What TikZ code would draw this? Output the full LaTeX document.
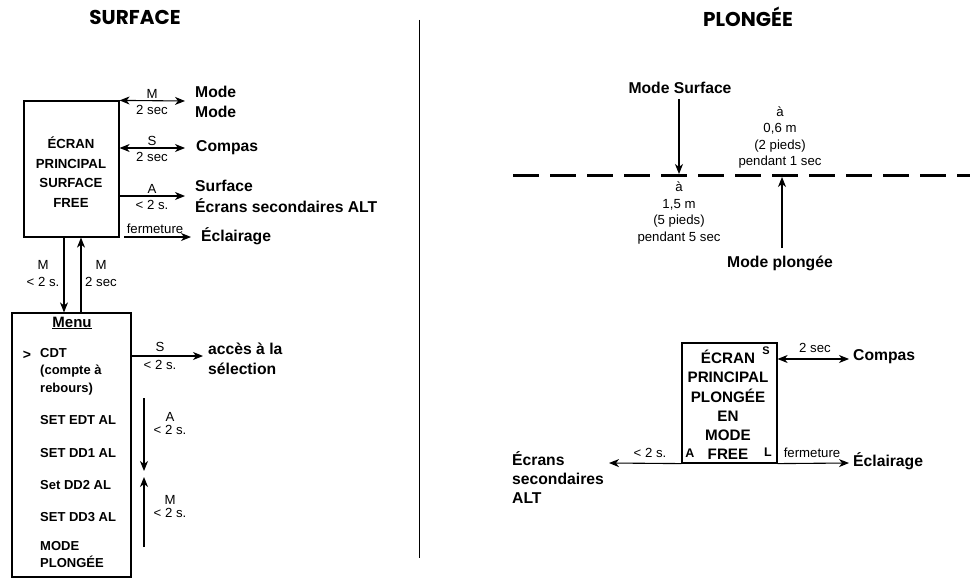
\documentclass[tikz,border=0pt]{standalone}
\usepackage{fontspec}
\setmainfont{Liberation Sans}
\newfontfamily\headfont{Poppins}
\usetikzlibrary{arrows.meta}
\tikzset{
  tip/.tip={Stealth[length=10pt,width=8pt,inset=3pt]},
  conn/.style={line width=1.1pt},
  screen/.style={draw, line width=1.2pt, inner sep=0pt},
  lbl/.style={font=\fontsize{13.2}{15}\selectfont, inner sep=0pt},
  dlbl/.style={font=\fontsize{13.2}{16.5}\selectfont, align=center, inner sep=0pt},
  tgt/.style={font=\fontsize{15.7}{20}\selectfont\bfseries, inner sep=0pt, anchor=west, align=left},
  scrtext/.style={font=\fontsize{13.2}{19.5}\selectfont\bfseries, align=center, inner sep=0pt},
  item/.style={font=\fontsize{13}{17.5}\selectfont\bfseries, inner sep=0pt, anchor=west, align=left},
  title/.style={font=\fontsize{20}{24}\headfont\bfseries, inner sep=0pt}
}
\begin{document}
\begin{tikzpicture}[x=1pt, y=-1pt]
\useasboundingbox (0,0) rectangle (970,578);

% headings and divider
\node[title] (tsurf) at (135,17) {SURFACE};
\node[title] (tplon) at (748,17) {PLONGÉE};
\coordinate (divtop) at (419.5,20);
\coordinate (divbot) at (419.5,558);
\draw[line width=1.3pt] (divtop) -- (divbot);

% ---------- surface: main screen ----------
\node[screen, minimum width=95pt, minimum height=136pt] (scr) at (71.5,169) {};
\node[scrtext] (scrtxt) at (71,172) {ÉCRAN\\PRINCIPAL\\SURFACE\\FREE};

\coordinate (e1) at (185,101);
\coordinate (e2) at (185,148);
\coordinate (e3) at (185,196);
\coordinate (e4s) at (124,237);
\coordinate (e4) at (191,237);

\draw[conn, tip-tip] (scr.north east) -- (e1);
\node[lbl] (l1a) at (152,94) {M};
\node[lbl] (l1b) at (152,110) {2 sec};
\node[tgt] (t1a) at (195,92) {Mode};
\node[tgt] (t1b) at (195,112) {Mode};

\draw[conn, tip-tip] (e2 -| scr.east) -- (e2);
\node[lbl] (l2a) at (152,141) {S};
\node[lbl] (l2b) at (152,157) {2 sec};
\node[tgt] (t2) at (196,148) {Compas};

\draw[conn, -tip] (e3 -| scr.east) -- (e3);
\node[lbl] (l3a) at (152,189) {A};
\node[lbl] (l3b) at (152,205) {< 2 s.};
\node[tgt] (t3a) at (195,186) {Surface};
\node[tgt] (t3b) at (195,206) {Écrans secondaires ALT};

\draw[conn, -tip] (e4s) -- (e4);
\node[lbl] (l4) at (155,229) {fermeture};
\node[tgt] (t4) at (201,236) {Éclairage};

% ---------- surface: menu ----------
\node[screen, minimum width=119pt, minimum height=264pt] (menu) at (71.5,445) {};

\draw[conn, -tip] (scr.south -| 64,0) -- (menu.north -| 64,0);
\draw[conn, -tip] (menu.north -| 81,0) -- (scr.south -| 81,0);
\node[lbl] (lm1a) at (43,265) {M};
\node[lbl] (lm1b) at (43,282) {< 2 s.};
\node[lbl] (lm2a) at (101,265) {M};
\node[lbl] (lm2b) at (101,282) {2 sec};

\node[font=\fontsize{15}{17}\selectfont\bfseries, inner sep=0pt] (mhead) at (72,323) {\underline{Menu}};
\node[font=\fontsize{14}{16}\selectfont\bfseries, inner sep=0pt] (cursor) at (27,355) {>};
\node[item, anchor=north west] (i1) at (40,348) {CDT\\(compte à\\rebours)};
\node[item] (i2) at (40,420) {SET EDT AL};
\node[item] (i3) at (40,453) {SET DD1 AL};
\node[item] (i4) at (40,485) {Set DD2 AL};
\node[item] (i5) at (40,517) {SET DD3 AL};
\node[item, anchor=north west, font=\fontsize{13}{17}\selectfont\bfseries] (i6) at (40,541) {MODE\\PLONGÉE};

\coordinate (sel) at (203,356);
\draw[conn, -tip] (sel -| menu.east) -- (sel);
\node[lbl] (ls1) at (160,347) {S};
\node[lbl] (ls2) at (160,365) {< 2 s.};
\node[tgt] (tsa) at (208,349) {accès à la};
\node[tgt] (tsb) at (208,369) {sélection};

\coordinate (dn0) at (144,398);
\coordinate (dn1) at (144,471);
\coordinate (up0) at (144,547);
\coordinate (up1) at (144,477);
\draw[conn, -tip] (dn0) -- (dn1);
\draw[conn, -tip] (up0) -- (up1);
\node[lbl] (la1) at (170,417) {A};
\node[lbl] (la2) at (170,430) {< 2 s.};
\node[lbl] (lb1) at (170,500) {M};
\node[lbl] (lb2) at (170,513) {< 2 s.};

% ---------- dive: surface line ----------
\coordinate (wl0) at (513,175);
\coordinate (wl1) at (975,175);
\draw[line width=3pt, dash pattern=on 26pt off 11pt] (wl0) -- (wl1);

\node[font=\fontsize{15.7}{18}\selectfont\bfseries, inner sep=0pt] (msurf) at (680,88) {Mode Surface};
\draw[conn, -tip] (msurf.south -| 679,0) ++(0,5) -- (679,174);
\node[dlbl] (d15) at (679,213) {à\\1,5 m\\(5 pieds)\\pendant 5 sec};
\node[dlbl] (d06) at (780,137.5) {à\\0,6 m\\(2 pieds)\\pendant 1 sec};
\node[font=\fontsize{15.7}{18}\selectfont\bfseries, inner sep=0pt] (mplon) at (780,263) {Mode plongée};
\draw[conn, -tip] (782,248) -- (782,177);

% ---------- dive: main screen ----------
\node[screen, minimum width=95pt, minimum height=120pt] (dscr) at (729.5,403) {};
\node[scrtext, font=\fontsize{15.2}{19.2}\selectfont\bfseries] (dtxt) at (728,405) {ÉCRAN\\PRINCIPAL\\PLONGÉE\\EN\\MODE\\FREE};
\node[font=\fontsize{11}{12}\selectfont\bfseries, inner sep=0pt] (kS) at (766,351) {S};
\node[font=\fontsize{12.5}{14}\selectfont\bfseries, inner sep=0pt] (kA) at (690,453) {A};
\node[font=\fontsize{12.5}{14}\selectfont\bfseries, inner sep=0pt] (kL) at (768,452) {L};

\coordinate (c1) at (849,359);
\draw[conn, tip-tip] (c1 -| dscr.east) -- (c1);
\node[lbl] (lc1) at (815,348) {2 sec};
\node[tgt] (tc1) at (853,357) {Compas};

\coordinate (c2) at (609,463);
\draw[conn, -tip] (dscr.south west) -- (c2);
\node[lbl] (lc2) at (650,453) {< 2 s.};
\node[tgt, anchor=north west, font=\fontsize{15.7}{19}\selectfont\bfseries] (tc2) at (512,451) {Écrans\\secondaires\\ALT};

\coordinate (c3) at (849,463);
\draw[conn, -tip] (dscr.south east) -- (c3);
\node[lbl] (lc3) at (812,453) {fermeture};
\node[tgt] (tc3) at (853,461) {Éclairage};
\end{tikzpicture}
\end{document}
